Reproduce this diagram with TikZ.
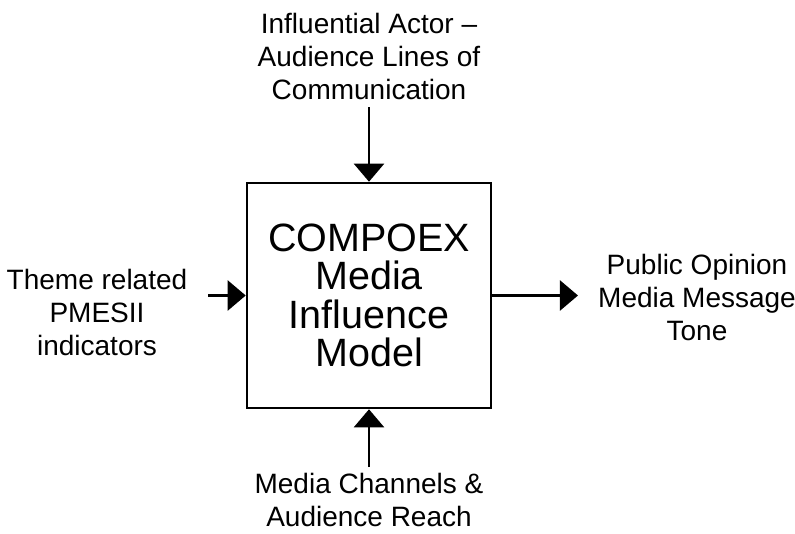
\documentclass[tikz,border=0pt]{standalone}
\usepackage{fontspec}
\setmainfont{Liberation Sans}
\usetikzlibrary{arrows.meta,positioning}

\begin{document}
\begin{tikzpicture}[x=1pt,y=-1pt,
  unit/.style={draw,line width=2.6pt,minimum width=244pt,minimum height=225pt,inner sep=0pt,align=center,font=\fontsize{39.5}{38.3}\selectfont},
  lbl/.style={align=center,inner sep=0pt,font=\fontsize{28}{33}\selectfont},
  link/.style={-{Triangle[length=18pt,width=30pt]},line width=2.3pt}]
\useasboundingbox (0,0) rectangle (795,533);
\node[unit] (M) at (369,295.5) {COMPOEX\\Media\\Influence\\Model};
\node[lbl] (actor) at (369,56) {Influential Actor –\\Audience Lines of\\Communication};
\node[lbl] (theme) at (97,312) {Theme related\\PMESII\\indicators};
\node[lbl] (tone) at (697,297) {Public Opinion\\Media Message\\Tone};
\node[lbl] (reach) at (369,500) {Media Channels \&\\Audience Reach};
    \path (actor) edge[link,shorten <=8pt] (M);
    \path (reach) edge[link,shorten <=6pt] (M);
    \path (theme.east |- M) edge[link,shorten <=21pt] (M.west);
    \path (M.east) edge[link,shorten >=20pt] (tone.west |- M);
\end{tikzpicture}
\end{document}
